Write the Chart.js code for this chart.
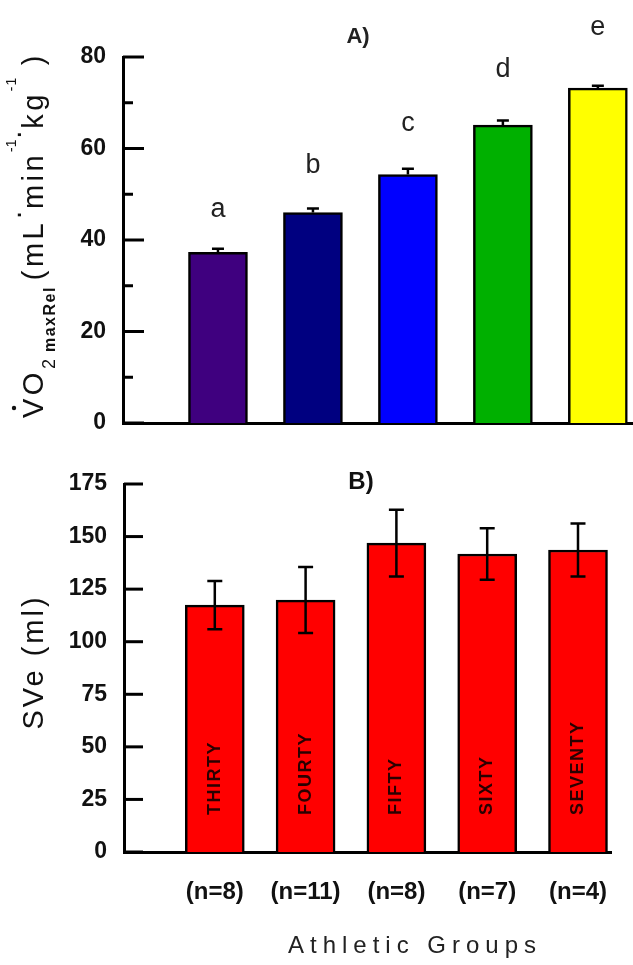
<!DOCTYPE html>
<html>
<head>
<meta charset="utf-8">
<script src="https://cdn.jsdelivr.net/npm/chart.js@4.4.1/dist/chart.umd.min.js"></script>
<style>
  html, body { margin: 0; padding: 0; background: #fff; }
  #wrap { position: relative; width: 633px; height: 965px; overflow: hidden; background: #fff; }
  canvas { position: absolute; left: 0; }
  #top { top: 0; }
  #bottom { top: 440px; }
</style>
</head>
<body>
<div id="wrap">
  <canvas id="top" width="633" height="440"></canvas>
  <canvas id="bottom" width="633" height="525"></canvas>
</div>
<script>
// groups, sample sizes and the two measured variables (mean + error)
const groups = ['THIRTY', 'FOURTY', 'FIFTY', 'SIXTY', 'SEVENTY'];
const groupSizes = ['(n=8)', '(n=11)', '(n=8)', '(n=7)', '(n=4)'];
const vo2Mean = [37.3, 46.0, 54.3, 65.1, 73.2];
const vo2Err = [0.8, 0.9, 1.3, 1.0, 0.5];
const vo2Letters = ['a', 'b', 'c', 'd', 'e'];
const sveMean = [117.4, 119.8, 146.9, 141.7, 143.6];
const sveErr = [11.5, 15.7, 15.9, 12.2, 12.6];
const vo2Max = 80, vo2Step = 10, vo2LabelStep = 20;
const sveMax = 175, sveStep = 25;

const FONT = "'Liberation Sans', Arial, sans-serif";
const xMax = 5.37;

// ticks pointing into the plot, like the original
function inwardTicks(major, majorLen, minorLen) {
  return {
    id: 'inwardTicks',
    afterDraw(chart) {
      const ctx = chart.ctx, y = chart.scales.y, x0 = chart.chartArea.left;
      ctx.save();
      ctx.strokeStyle = '#000';
      ctx.lineWidth = 3;
      y.ticks.forEach(t => {
        const py = y.getPixelForValue(t.value);
        const len = t.value % major === 0 ? majorLen : minorLen;
        ctx.beginPath();
        ctx.moveTo(x0, py);
        ctx.lineTo(x0 + len, py);
        ctx.stroke();
      });
      ctx.restore();
    }
  };
}

function errorBars(means, errs, both, cap) {
  return {
    id: 'errorBars',
    afterDatasetsDraw(chart) {
      const ctx = chart.ctx, x = chart.scales.x, y = chart.scales.y;
      ctx.save();
      ctx.strokeStyle = '#000';
      ctx.lineWidth = 2.5;
      means.forEach((m, i) => {
        const px = x.getPixelForValue(i + 1);
        const top = y.getPixelForValue(m + errs[i]);
        const bot = y.getPixelForValue(both ? m - errs[i] : m);
        ctx.beginPath();
        ctx.moveTo(px, bot);
        ctx.lineTo(px, top);
        ctx.moveTo(px - cap / 2, top);
        ctx.lineTo(px + cap / 2, top);
        if (both) {
          ctx.moveTo(px - cap / 2, bot);
          ctx.lineTo(px + cap / 2, bot);
        }
        ctx.stroke();
      });
      ctx.restore();
    }
  };
}

// rotated title made of pieces (sub/superscripts)
function drawPieces(ctx, cx, cy, pieces) {
  ctx.save();
  ctx.translate(cx, cy);
  ctx.rotate(-Math.PI / 2);
  ctx.fillStyle = '#111';
  ctx.textBaseline = 'alphabetic';
  ctx.textAlign = 'left';
  let total = 0;
  pieces.forEach(p => {
    ctx.font = p.font;
    ctx.letterSpacing = (p.sp || 0) + 'px';
    p.w = ctx.measureText(p.t).width;
    total += p.w;
  });
  let x = -total / 2;
  pieces.forEach(p => {
    ctx.font = p.font;
    ctx.letterSpacing = (p.sp || 0) + 'px';
    ctx.fillText(p.t, x, p.dy);
    if (p.dot) {
      ctx.beginPath();
      ctx.arc(x + 10, p.dy - 29, 2.2, 0, Math.PI * 2);
      ctx.fill();
    }
    x += p.w;
  });
  ctx.restore();
}

const topText = {
  id: 'topText',
  afterDraw(chart) {
    const ctx = chart.ctx, x = chart.scales.x, y = chart.scales.y;
    ctx.save();
    ctx.fillStyle = '#222';
    ctx.textAlign = 'center';
    ctx.textBaseline = 'alphabetic';
    ctx.font = '27px ' + FONT;
    vo2Letters.forEach((l, i) => {
      const gap = 35 + 4.5 * i;
      ctx.fillText(l, x.getPixelForValue(i + 1), y.getPixelForValue(vo2Mean[i]) - gap);
    });
    ctx.font = 'bold 22px ' + FONT;
    ctx.textBaseline = 'middle';
    ctx.fillText('A)', 358, 37);
    ctx.restore();

    const main = '29px ' + FONT, sub = '18px ' + FONT, subB = 'bold 16px ' + FONT, sup = '14px ' + FONT;
    drawPieces(ctx, 33, 235, [
      { t: 'VO', font: main, dy: 10, dot: true, sp: 3.5 },
      { t: '2 ', font: sub, dy: 22, sp: 1 },
      { t: 'maxRel ', font: subB, dy: 22, sp: 1.5 },
      { t: '(mL', font: main, dy: 10, sp: 3.5 },
      { t: '\u00B7', font: main, dy: -6, sp: 1 },
      { t: 'min', font: main, dy: 10, sp: 3.5 },
      { t: '-1', font: sup, dy: -17, sp: 0 },
      { t: '\u00B7', font: main, dy: -6, sp: 1 },
      { t: 'kg', font: main, dy: 10, sp: 3.5 },
      { t: '-1', font: sup, dy: -17, sp: 1 },
      { t: ' )', font: main, dy: 10, sp: 3.5 }
    ]);
  }
};

const bottomText = {
  id: 'bottomText',
  afterDatasetsDraw(chart) {
    const ctx = chart.ctx, x = chart.scales.x, y = chart.scales.y;
    ctx.save();
    ctx.fillStyle = '#2a0000';
    ctx.font = 'bold 18px ' + FONT;
    ctx.letterSpacing = '1.5px';
    ctx.textAlign = 'left';
    ctx.textBaseline = 'middle';
    groups.forEach((g, i) => {
      ctx.save();
      ctx.translate(x.getPixelForValue(i + 1), y.getPixelForValue(0) - 37);
      ctx.rotate(-Math.PI / 2);
      ctx.fillText(g, 0, 0);
      ctx.restore();
    });
    ctx.restore();
  },
  afterDraw(chart) {
    const ctx = chart.ctx;
    ctx.save();
    ctx.fillStyle = '#111';
    ctx.textAlign = 'center';
    ctx.textBaseline = 'middle';
    ctx.font = 'bold 24px ' + FONT;
    ctx.fillText('B)', 361, 42);
    ctx.font = '24px ' + FONT;
    ctx.letterSpacing = '6px';
    ctx.textBaseline = 'alphabetic';
    ctx.fillStyle = '#222';
    ctx.fillText('Athletic Groups', 415, 513);
    ctx.restore();
    drawPieces(ctx, 33, 222, [{ t: 'SVe (ml)', font: '29px ' + FONT, dy: 10, sp: 3 }]);
  }
};

const xScale = (showLabels) => ({
  type: 'linear',
  min: 0,
  max: xMax,
  offset: false,
  grid: { display: false, drawTicks: false },
  border: { display: true, width: 3, color: '#000' },
  ticks: {
    display: showLabels,
    stepSize: 1,
    includeBounds: false,
    autoSkip: false,
    maxRotation: 0,
    minRotation: 0,
    padding: 26,
    color: '#111',
    font: { family: FONT, size: 24, weight: 'bold' },
    callback: v => (Number.isInteger(v) && v >= 1 && v <= groupSizes.length) ? groupSizes[v - 1] : ''
  }
});

// fixed axis width, and no extra room reserved for end labels
const fitY = w => s => { s.width = w; s.paddingTop = 0; s.paddingBottom = 0; };

new Chart(document.getElementById('top'), {
  type: 'bar',
  data: {
    datasets: [{
      data: vo2Mean.map((v, i) => ({ x: i + 1, y: v })),
      backgroundColor: ['#3f007f', '#000080', '#0000ff', '#00b000', '#ffff00'],
      borderColor: '#000',
      borderWidth: 2.5,
      borderSkipped: 'start',
      barThickness: 59
    }]
  },
  options: {
    responsive: false,
    animation: false,
    layout: { padding: { top: 57, right: 0, bottom: 0, left: 0 } },
    plugins: { legend: { display: false }, tooltip: { enabled: false } },
    scales: {
      x: Object.assign(xScale(false), { afterFit: s => { s.height = 17; } }),
      y: {
        min: 0,
        max: vo2Max,
        grid: { display: false, drawTicks: false },
        border: { display: true, width: 3, color: '#000' },
        ticks: {
          stepSize: vo2Step,
          padding: 17,
          color: '#111',
          font: { family: FONT, size: 23, weight: 'bold' },
          callback: v => v % vo2LabelStep === 0 ? v : ''
        },
        afterFit: fitY(123)
      }
    }
  },
  plugins: [inwardTicks(vo2LabelStep, 21, 10), errorBars(vo2Mean, vo2Err, false, 12), topText]
});

new Chart(document.getElementById('bottom'), {
  type: 'bar',
  data: {
    datasets: [{
      data: sveMean.map((v, i) => ({ x: i + 1, y: v })),
      backgroundColor: '#ff0000',
      borderColor: '#000',
      borderWidth: 2.5,
      borderSkipped: 'start',
      barThickness: 59
    }]
  },
  options: {
    responsive: false,
    animation: false,
    layout: { padding: { top: 44, right: 0, bottom: 0, left: 0 } },
    plugins: { legend: { display: false }, tooltip: { enabled: false } },
    scales: {
      x: Object.assign(xScale(true), { afterFit: s => { s.height = 113; } }),
      y: {
        min: 0,
        max: sveMax,
        grid: { display: false, drawTicks: false },
        border: { display: true, width: 3, color: '#000' },
        ticks: {
          stepSize: sveStep,
          padding: 17,
          color: '#111',
          font: { family: FONT, size: 23, weight: 'bold' }
        },
        afterFit: fitY(124)
      }
    }
  },
  plugins: [inwardTicks(sveStep, 19, 19), errorBars(sveMean, sveErr, true, 15), bottomText]
});
</script>
</body>
</html>
